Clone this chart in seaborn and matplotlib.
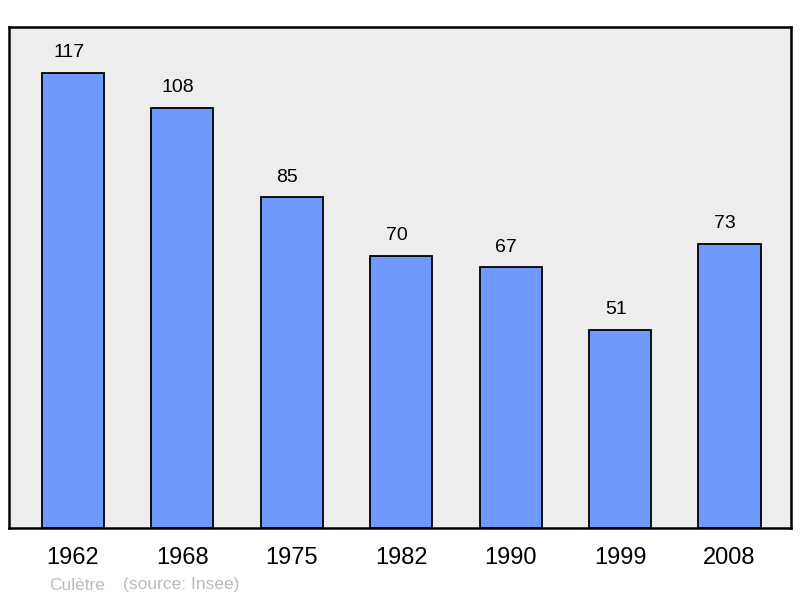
import matplotlib
matplotlib.use("Agg")
import matplotlib.pyplot as plt
import seaborn as sns
import pandas as pd

years = ["1962", "1968", "1975", "1982", "1990", "1999", "2008"]
population = [117, 108, 85, 70, 67, 51, 73]

df = pd.DataFrame({"year": years, "pop": population})

sns.set_style("white")
plt.rcParams['font.family'] = ['Liberation Sans', 'DejaVu Sans']

fig = plt.figure(figsize=(8, 5.98), dpi=100)
ax = fig.add_axes([9/800, 1 - 528/598, 782/800, 501/598])
ax.set_facecolor("#ededed")

sns.barplot(data=df, x="year", y="pop", color="#7099ff", saturation=1,
            width=0.567, edgecolor="black", linewidth=1.3, ax=ax)

for i, v in enumerate(population):
    ax.text(i - 0.04, v + 3.0, str(v), ha="center", va="bottom", fontsize=14, color="black")

ax.set_xlim(-0.585, 6.562)
ax.set_ylim(0, 128.8)
ax.set_xlabel("")
ax.set_ylabel("")
ax.set_yticks([])
ax.tick_params(axis="x", length=0, labelsize=17, pad=14, labelcolor="black")
for s in ax.spines.values():
    s.set_visible(True)
    s.set_color("black")
    s.set_linewidth(1.8)

fig.text(49/800, 1 - 585/598, "Culètre", fontsize=12.5, color="#bbbbbb", va="center")
fig.text(123/800, 1 - 585/598, "(source: Insee)", fontsize=12.5, color="#bbbbbb", va="center")

fig.savefig("out.png", dpi=100)
